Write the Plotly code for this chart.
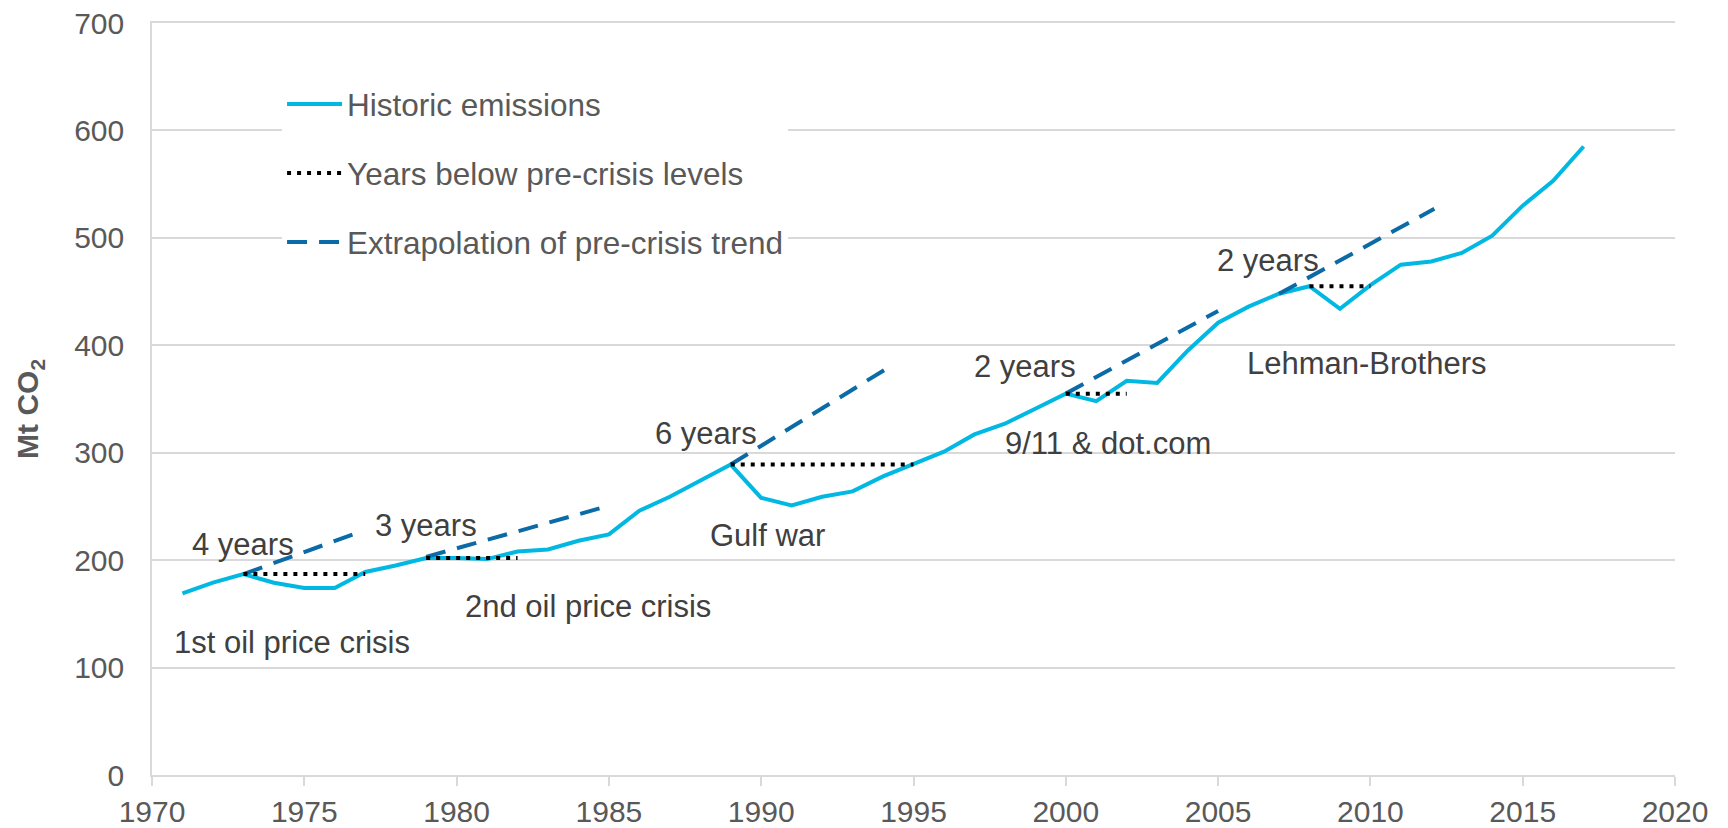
import plotly.graph_objects as go

years = list(range(1971, 2018))
emissions = [169, 179, 187, 179, 174, 174, 189, 195, 202, 202,
             201, 208, 210, 218, 224, 246, 259, 274, 289, 258,
             251, 259, 264, 278, 289, 301, 317, 327, 341, 355,
             348, 367, 365, 395, 421, 436, 448, 455, 434, 456,
             475, 478, 486, 502, 530, 553, 585]

# Years below pre-crisis levels (segments)
below_years = [[1973, 1977], [1979, 1982], [1989, 1995], [2000, 2002], [2008, 2010]]
below_values = [[187, 187], [202, 202], [289, 289], [355, 355], [455, 455]]

# Extrapolation of pre-crisis trend (segments)
trend_years = [[1973, 1976.7], [1979, 1984.8], [1989, 1994.1], [2000, 2005], [2007, 2012.1]]
trend_values = [[187, 225], [203, 249], [289, 378], [355, 432], [448, 527]]

labels = [
    ("4 years", 1973.0, 215),
    ("3 years", 1979.0, 232),
    ("1st oil price crisis", 1974.6, 123),
    ("2nd oil price crisis", 1984.3, 157),
    ("6 years", 1988.2, 318),
    ("Gulf war", 1990.2, 223),
    ("2 years", 1998.65, 380),
    ("9/11 & dot.com", 2001.4, 309),
    ("2 years", 2006.65, 479),
    ("Lehman-Brothers", 2009.9, 383),
]

def join(segs):
    out = []
    for s in segs:
        out += list(s) + [None]
    return out[:-1]

FONT = "Liberation Sans, Arial, sans-serif"

fig = go.Figure()
fig.add_trace(go.Scatter(x=years, y=emissions, mode="lines", name="Historic emissions",
                         line=dict(color="#00B8E2", width=4), legendrank=1, legendgroup="a"))
fig.add_trace(go.Scatter(x=join(trend_years), y=join(trend_values), mode="lines",
                         name="Extrapolation of pre-crisis trend", connectgaps=False,
                         line=dict(color="#0B6BA6", width=4, dash="20px,12px"),
                         legendrank=3, legendgroup="c"))
fig.add_trace(go.Scatter(x=join(below_years), y=join(below_values), mode="lines",
                         name="Years below pre-crisis levels", connectgaps=False,
                         line=dict(color="#000000", width=4, dash="4px,6px"),
                         legendrank=2, legendgroup="b"))

for text, x, y in labels:
    fig.add_annotation(x=x, y=y, text=text, showarrow=False,
                       font=dict(family=FONT, size=31, color="#404040"))

# y-axis title
fig.add_annotation(xref="paper", yref="paper", x=-0.08, y=0.487,
                   text="<b>Mt CO<sub>2</sub></b>", textangle=-90, showarrow=False,
                   xanchor="center", yanchor="middle",
                   font=dict(family=FONT, size=30, color="#595959"))

# page body has an 8px margin: size/margins compensate so the plot area lands
# at x 152..1675, y 23..775 of the window
fig.update_layout(
    width=1720, height=820,
    margin=dict(l=144, r=53, t=15, b=53),
    paper_bgcolor="white", plot_bgcolor="white",
    font=dict(family=FONT, size=30, color="#595959"),
    showlegend=True,
    legend=dict(x=0.0854, y=0.928, xanchor="left", yanchor="top",
                bgcolor="white", borderwidth=0, itemwidth=55,
                font=dict(family=FONT, size=31.5, color="#595959"),
                traceorder="grouped", tracegroupgap=25),
    xaxis=dict(range=[1970, 2020], tickmode="linear", tick0=1970, dtick=5,
               showgrid=False, showline=True, mirror=True,
               linecolor="#D9D9D9", linewidth=1.5,
               ticks="outside", ticklen=9, tickcolor="#D9D9D9", tickwidth=1.5,
               ticklabelstandoff=0, ticklabeloverflow="allow",
               tickfont=dict(family=FONT, size=30, color="#595959"), zeroline=False,
               automargin=False),
    yaxis=dict(range=[0, 700], tickmode="linear", tick0=0, dtick=100,
               showgrid=True, gridcolor="#D9D9D9", gridwidth=1.5,
               showline=True, linecolor="#D9D9D9", linewidth=1.5, zeroline=False,
               ticks="", ticklabelstandoff=20, ticklabeloverflow="allow",
               tickfont=dict(family=FONT, size=30, color="#595959"),
               automargin=False),
)

fig.write_html("out.html")
